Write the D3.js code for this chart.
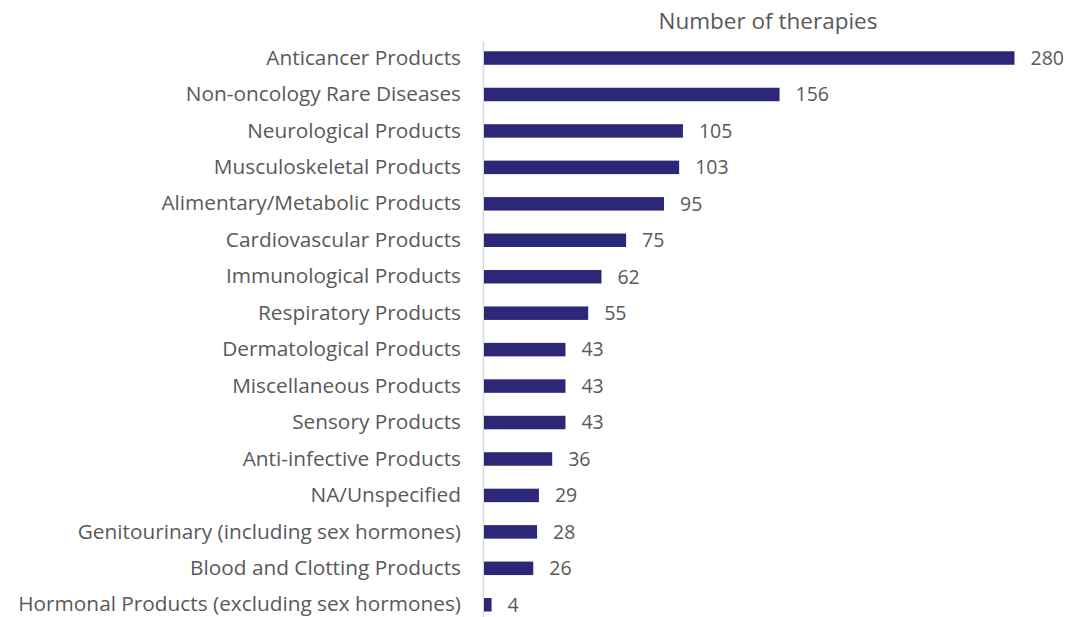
<!DOCTYPE html>
<html lang="en">
<head>
    <meta charset="utf-8">
    <title>Number of therapies</title>
    <style>
        body { margin: 0; background: #fff; }
        svg text { font-family: "Open Sans", sans-serif; fill: #595959; }
    </style>
    <script src="https://d3js.org/d3.v7.min.js"></script>
</head>
<body>
<svg></svg>
<script>
    const categories = [
        'Anticancer Products',
        'Non-oncology Rare Diseases',
        'Neurological Products',
        'Musculoskeletal Products',
        'Alimentary/Metabolic Products',
        'Cardiovascular Products',
        'Immunological Products',
        'Respiratory Products',
        'Dermatological Products',
        'Miscellaneous Products',
        'Sensory Products',
        'Anti-infective Products',
        'NA/Unspecified',
        'Genitourinary (including sex hormones)',
        'Blood and Clotting Products',
        'Hormonal Products (excluding sex hormones)'
    ];
    const values = [280, 156, 105, 103, 95, 75, 62, 55, 43, 43, 43, 36, 29, 28, 26, 4];
    const title = 'Number of therapies';

    const width = 1088;
    const height = 617;
    const axisX = 484;

    const svg = d3.select('svg').attr('width', width).attr('height', height);

    const x = d3.scaleLinear().domain([0, 280]).range([axisX, 1014.5]);
    const y = d3.scaleBand()
        .domain(categories)
        .range([39.8, 623])
        .paddingInner(0.63)
        .paddingOuter(0.315);

    // axis line
    svg.append('line')
        .attr('x1', axisX - 0.5).attr('x2', axisX - 0.5)
        .attr('y1', 41).attr('y2', 617)
        .attr('stroke', '#d9d9d9')
        .attr('stroke-width', 1.5);

    svg.append('text')
        .attr('x', 768)
        .attr('y', 29)
        .attr('text-anchor', 'middle')
        .style('font-size', '22.5px')
        .text(title);

    svg.selectAll('.bar')
        .data(values)
        .enter().append('rect')
        .attr('class', 'bar')
        .attr('x', x(0))
        .attr('y', (d, i) => y(categories[i]))
        .attr('width', d => x(d) - x(0))
        .attr('height', y.bandwidth())
        .attr('fill', '#2c2777');

    const labels = svg.selectAll('.cat')
        .data(categories)
        .enter().append('text')
        .attr('class', 'cat')
        .attr('x', 461)
        .attr('y', d => y(d) + y.bandwidth() / 2)
        .attr('dy', '0.32em')
        .attr('text-anchor', 'end')
        .style('font-size', '18px')
        .text(d => d);

    // fit the longest label to the reference width
    let maxW = 0;
    labels.each(function () { maxW = Math.max(maxW, this.getComputedTextLength()); });
    const fs = 18 * 443 / maxW;
    labels.style('font-size', fs + 'px');

    svg.selectAll('.val')
        .data(values)
        .enter().append('text')
        .attr('class', 'val')
        .attr('x', d => x(d) + 16)
        .attr('y', (d, i) => y(categories[i]) + y.bandwidth() / 2)
        .attr('dy', '0.35em')
        .style('font-size', '19.5px')
        .text(d => d);
</script>
</body>
</html>
